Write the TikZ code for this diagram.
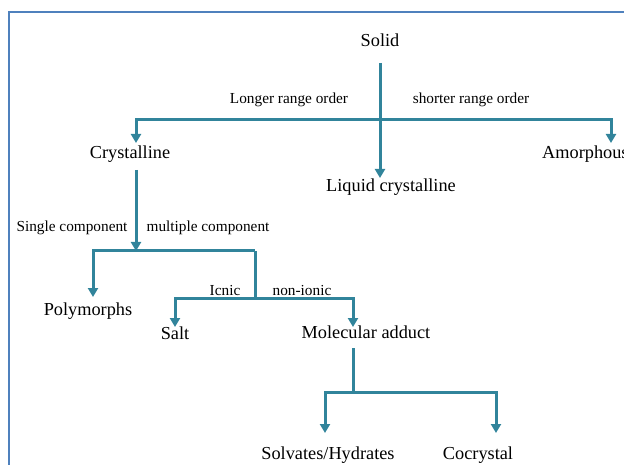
\documentclass[tikz,border=0pt]{standalone}
\usepackage{fontspec}
\setmainfont{Liberation Serif}
\usetikzlibrary{arrows.meta}
\definecolor{frameblue}{HTML}{4F81BD}
\definecolor{conncol}{HTML}{31849B}
\tikzset{
  lbl/.style={inner sep=0pt, font=\fontsize{18.3}{20}\selectfont},
  sml/.style={inner sep=0pt, font=\fontsize{15.3}{17}\selectfont},
  conn/.style={draw=conncol, line width=3pt},
  arr/.style={conn, -{Triangle[width=10pt,length=9pt]}},
}
\begin{document}
\begin{tikzpicture}[x=1pt,y=-1pt]
\useasboundingbox (0,0) rectangle (624,465);
\draw[frameblue, line width=2pt] (8.5,470) -- (8.5,12.5) -- (630,12.5);
% nodes
\node[lbl] (solid) at (380,40) {Solid};
\node[lbl] (crys) at (130,154) {Crystalline};
\node[lbl] (liq) at (391,187) {Liquid crystalline};
\node[lbl, anchor=west] (amor) at (542,154) {Amorphous};
\node[lbl] (poly) at (88,311) {Polymorphs};
\node[lbl] (salt) at (175,333) {Salt};
\node[lbl] (mol) at (366,332) {Molecular adduct};
\node[lbl] (solv) at (328,455) {Solvates/Hydrates};
\node[lbl] (cocr) at (478,455) {Cocrystal};
\node[sml] (lro) at (289,100) {Longer range order};
\node[sml] (sro) at (471,100) {shorter range order};
\node[sml] (single) at (72,228) {Single component};
\node[sml] (multi) at (208,228) {multiple component};
\node[sml] (ionic) at (225,291) {Icnic};
\node[sml] (nonionic) at (302,291) {non-ionic};
% junctions
\coordinate (s0) at (380,63);
\coordinate (b1l) at (136,120);
\coordinate (b1r) at (611,120);
\coordinate (b1m) at (380,120);
\coordinate (c0) at (136,170);
\coordinate (b2) at (136,251);
\coordinate (b2l) at (93,251);
\coordinate (b2r) at (255,251);
\coordinate (b3) at (255,298);
\coordinate (b3l) at (175,298);
\coordinate (b3r) at (353,298);
\coordinate (m0) at (353,348);
\coordinate (b4) at (353,392);
\coordinate (b4l) at (325,392);
\coordinate (b4r) at (496,392);
% connectors
\draw[arr] (s0) -- (380,178) coordinate (liqtop);
\draw[arr] (b1m) -- (b1l) -- (136,143);
\draw[arr] (b1m) -- (b1r) -- (611,143);
\draw[arr] (c0) -- (b2);
\draw[arr] (b2r) -- (b2l) -- (93,297);
\draw[conn] (b2r) -- (b3);
\draw[arr] (b3) -- (b3l) -- (175,327);
\draw[arr] (b3) -- (b3r) -- (353,327);
\draw[conn] (m0) -- (b4);
\draw[arr] (b4) -- (b4l) -- (325,433);
\draw[arr] (b4) -- (b4r) -- (496,433);
\end{tikzpicture}
\end{document}
